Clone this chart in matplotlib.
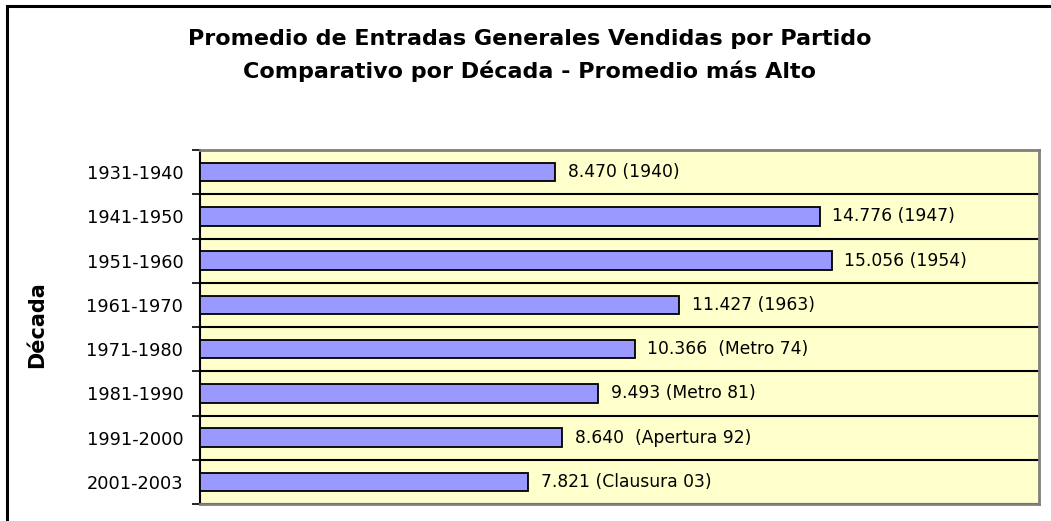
import numpy as np
import matplotlib
matplotlib.use('Agg')
from matplotlib import pyplot as plt
from matplotlib.patches import Rectangle

# el original (Excel) tiene letras muy espaciadas, DejaVu se acerca mas en ancho
plt.rcParams['font.family'] = ['DejaVu Sans']

decades = ['1931-1940', '1941-1950', '1951-1960', '1961-1970',
           '1971-1980', '1981-1990', '1991-2000', '2001-2003']
promedio = [8470, 14776, 15056, 11427, 10366, 9493, 8640, 7821]
etiquetas = ['8.470 (1940)', '14.776 (1947)', '15.056 (1954)', '11.427 (1963)',
             '10.366  (Metro 74)', '9.493 (Metro 81)', '8.640  (Apertura 92)',
             '7.821 (Clausura 03)']

W, H = 1051, 521
fig = plt.figure(figsize=(W / 100, H / 100), dpi=100)
fig.patch.set_facecolor('white')

# marco negro del grafico (solo se ve arriba e izquierda)
fig.patches.append(Rectangle((6.5 / W, -0.1), 1.2, 1 - 5.5 / H + 0.1,
                             transform=fig.transFigure, fill=False,
                             edgecolor='black', lw=2.2, clip_on=False))

ax = fig.add_axes([200 / W, 1 - 504 / H, 839 / W, 354 / H])
ax.set_facecolor('#ffffcc')

y = np.arange(len(decades))
ax.barh(y, promedio, height=0.42, color='#9999ff', edgecolor='black', lw=1.3, zorder=3)

for i in range(len(promedio)):
    ax.annotate(etiquetas[i], (promedio[i], y[i]), xytext=(9, 0),
                textcoords='offset points', va='center', ha='left', fontsize=12.3)

ax.set_xlim(0, 20000)
ax.set_ylim(len(decades) - 0.5, -0.5)
ax.set_xticks([])
ax.set_yticks(y)
ax.set_yticklabels(decades, fontsize=12.8)
ax.set_yticks(np.arange(len(decades) + 1) - 0.5, minor=True)
ax.tick_params(axis='y', which='major', length=0, pad=12)
ax.tick_params(axis='y', which='minor', length=6, width=1.2, color='black')
ax.grid(which='minor', axis='y', color='black', lw=1.5, zorder=1)

ax.spines['left'].set_color('black')
ax.spines['left'].set_linewidth(1.5)
for s in ['top', 'right', 'bottom']:
    ax.spines[s].set_color('#808080')
    ax.spines[s].set_linewidth(2)

ax.set_ylabel('Década', fontsize=15, fontweight='bold')
ax.yaxis.set_label_coords(-0.182, 0.506)

fig.text(0.504, 1 - 39 / H, 'Promedio de Entradas Generales Vendidas por Partido',
         ha='center', va='center', fontsize=16, fontweight='bold')
fig.text(0.504, 1 - 71 / H, 'Comparativo por Década - Promedio más Alto',
         ha='center', va='center', fontsize=16, fontweight='bold')

plt.savefig('out.png', dpi=100)
